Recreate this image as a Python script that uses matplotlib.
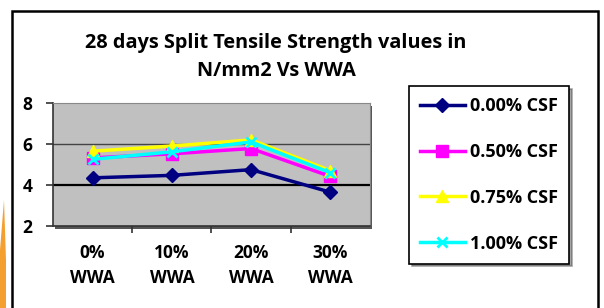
import matplotlib.pyplot as plt
from matplotlib.patches import Rectangle, Polygon

categories = ["0%\nWWA", "10%\nWWA", "20%\nWWA", "30%\nWWA"]
series_names = ["0.00% CSF", "0.50% CSF", "0.75% CSF", "1.00% CSF"]
csf_000 = [4.35, 4.47, 4.75, 3.65]
csf_050 = [5.32, 5.52, 5.78, 4.42]
csf_075 = [5.65, 5.9, 6.2, 4.7]
csf_100 = [5.25, 5.62, 6.1, 4.6]

colors = ["#000080", "#FF00FF", "#FFFF00", "#00FFFF"]
markers = ["D", "s", "^", "x"]

W, H = 604, 308
plt.rcParams['font.family'] = ['Open Sans', 'DejaVu Sans']
fig = plt.figure(figsize=(W / 100, H / 100), dpi=100)

# chart outer frame (bottom runs off the picture)
fig.patches.append(Rectangle((12 / W, -0.1), 586 / W, 1.1 - 11 / H,
                             transform=fig.transFigure, fill=False,
                             edgecolor="black", linewidth=1.8))
# orange bit at the left edge
fig.patches.append(Polygon([(4 / W, 1 - 200 / H), (6 / W, 1 - 260 / H),
                            (6 / W, 0), (0, 0), (0, 1 - 250 / H)],
                           transform=fig.transFigure, closed=True,
                           facecolor="#F4A030", edgecolor="none"))
# drop shadow of plot area
fig.patches.append(Rectangle((55 / W, 1 - 229 / H), 317 / W, 123 / H,
                             transform=fig.transFigure, facecolor="#555555",
                             edgecolor="none", zorder=0))

ax = fig.add_axes([53 / W, 1 - 226 / H, 317 / W, 123 / H])
ax.set_zorder(2)
ax.set_facecolor("#C0C0C0")

x = range(len(categories))
for vals, name, c, m in zip([csf_000, csf_050, csf_075, csf_100],
                            series_names, colors, markers):
    ms = 8 if m in ("s", "^") else 7
    ax.plot(x, vals, color=c, marker=m, markersize=ms, linewidth=2.5,
            markeredgewidth=2 if m == "x" else 1, label=name, zorder=3)

ax.set_xlim(-0.5, 3.5)
ax.set_ylim(2, 8)
ax.set_yticks([2, 4, 6, 8])
ax.axhline(6, color="#444444", linewidth=1, zorder=1)
ax.axhline(4, color="black", linewidth=1.6, zorder=1)

ax.set_xticks(list(x))
ax.set_xticklabels(categories, fontsize=12.5, fontweight="bold", linespacing=1.5)
ax.set_xticks([0.5, 1.5, 2.5], minor=True)
ax.tick_params(axis="x", which="major", length=0, pad=13)
ax.tick_params(axis="x", which="minor", length=5, width=1.2, color="#333333")
ax.tick_params(axis="y", length=5, width=1.2, color="#333333", pad=10,
               labelsize=12.5)
for t in ax.get_yticklabels():
    t.set_fontweight("bold")

for s in ["top", "right"]:
    ax.spines[s].set_color("#888888")
ax.spines["left"].set_color("#333333")
ax.spines["bottom"].set_color("#333333")
ax.spines["left"].set_linewidth(1.2)
ax.spines["bottom"].set_linewidth(1.2)

fig.text(276 / W, 1 - 43 / H, "28 days Split Tensile Strength values in",
         ha="center", va="center", fontsize=14.3, fontweight="bold")
fig.text(276 / W, 1 - 71 / H, "N/mm2 Vs WWA",
         ha="center", va="center", fontsize=14.3, fontweight="bold")

leg = fig.legend(loc="upper left", bbox_to_anchor=(409 / W, 1 - 86 / H),
                 bbox_transform=fig.transFigure, frameon=True, shadow=True,
                 fancybox=False, prop={"weight": "bold", "size": 13},
                 labelspacing=1.55, handlelength=2.5, handletextpad=0.3,
                 borderpad=0.6, borderaxespad=0)
leg.get_frame().set_edgecolor("black")
leg.get_frame().set_linewidth(1.2)

fig.savefig("out.png", dpi=100)
